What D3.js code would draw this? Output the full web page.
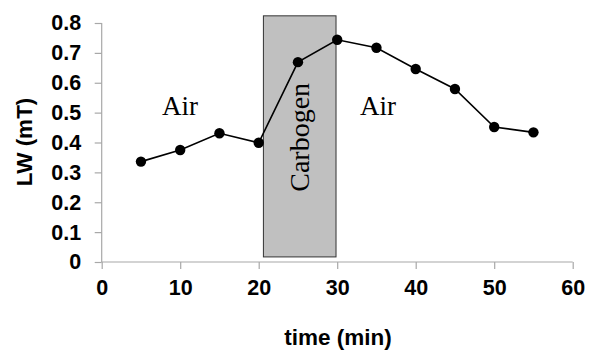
<!DOCTYPE html>
<html>
<head>
<meta charset="utf-8">
<script src="https://cdn.jsdelivr.net/npm/d3@7"></script>
<style>
  body { margin: 0; background: #fff; }
  svg { display: block; }
</style>
</head>
<body>
<div id="chart"></div>
<script>
// LW versus time, air / carbogen / air
const times = [5, 10, 15, 20, 25, 30, 35, 40, 45, 50, 55];
const lw = [0.336, 0.375, 0.431, 0.399, 0.669, 0.744, 0.717, 0.646, 0.579, 0.452, 0.434];
const xTicks = [0, 10, 20, 30, 40, 50, 60];
const yTicks = [0, 0.1, 0.2, 0.3, 0.4, 0.5, 0.6, 0.7, 0.8];
const carbogen = [20.6, 29.85]; // start, end (min)
const carbogenLW = [0.017, 0.824];

let width = 589, height = 351;

let x = d3.scaleLinear().domain([0, 60]).range([101.7, 572.7]);
let y = d3.scaleLinear().domain([0, 0.8]).range([262, 23]);

let svg = d3.select("#chart").append("svg")
  .attr("width", width)
  .attr("height", height);

// gray carbogen box
svg.append("rect")
  .attr("x", x(carbogen[0]))
  .attr("y", y(carbogenLW[1]))
  .attr("width", x(carbogen[1]) - x(carbogen[0]))
  .attr("height", y(carbogenLW[0]) - y(carbogenLW[1]))
  .attr("fill", "#c0c0c0")
  .attr("stroke", "#333")
  .attr("stroke-width", 1);

svg.append("text")
  .attr("transform", `translate(309,${(y(carbogenLW[0]) + y(carbogenLW[1])) / 2 + 1}) rotate(-90)`)
  .attr("text-anchor", "middle")
  .style("font-family", "'Liberation Serif', 'Times New Roman', serif")
  .style("font-size", "28px")
  .text("Carbogen");

// axes
let axeX = d3.axisBottom(x).tickValues(xTicks).tickSize(7).tickFormat(d3.format("d"));
let axeY = d3.axisLeft(y).tickValues(yTicks).tickSize(7).tickFormat(d => d === 0 ? "0" : d3.format(".1f")(d));

let gx = svg.append("g").attr("transform", `translate(0,${y(0)})`).call(axeX);
let gy = svg.append("g").attr("transform", `translate(${x(0)},0)`).call(axeY);

[gx, gy].forEach(g => {
  g.select(".domain").attr("stroke", "#a8a8a8").attr("stroke-width", 1.2);
  g.selectAll(".tick line").attr("stroke", "#a8a8a8").attr("stroke-width", 1.2);
  g.selectAll(".tick text")
    .attr("fill", "#000")
    .style("font-family", "'Liberation Sans', Arial, sans-serif")
    .style("font-weight", "bold")
    .style("font-size", "21.5px");
});
gx.select(".domain").attr("d", `M${x(0)},0H${x(60)}`);
gy.select(".domain").attr("d", `M0,${y(0)}V${y(0.8)}`);
gx.selectAll(".tick text").attr("y", 18).attr("dy", "0.71em");
gy.selectAll(".tick text").attr("x", -20.5);

// line + markers
let line = d3.line().x((d, i) => x(times[i])).y(d => y(d));

svg.append("path")
  .datum(lw)
  .attr("fill", "none")
  .attr("stroke", "#000")
  .attr("stroke-width", 1.6)
  .attr("d", line);

svg.selectAll("circle")
  .data(lw)
  .enter()
  .append("circle")
    .attr("cx", (d, i) => x(times[i]))
    .attr("cy", d => y(d))
    .attr("r", 5.2)
    .attr("fill", "#000");

// Air labels
svg.selectAll(".air")
  .data([[162, 115], [360, 115]])
  .enter()
  .append("text")
    .attr("class", "air")
    .attr("x", d => d[0])
    .attr("y", d => d[1])
    .style("font-family", "'Liberation Serif', 'Times New Roman', serif")
    .style("font-size", "27px")
    .text("Air");

// axis titles
svg.append("text")
  .attr("x", 338)
  .attr("y", 345)
  .attr("text-anchor", "middle")
  .style("font-family", "'Liberation Sans', Arial, sans-serif")
  .style("font-weight", "bold")
  .style("font-size", "22.5px")
  .text("time (min)");

svg.append("text")
  .attr("transform", "translate(32,142) rotate(-90)")
  .attr("text-anchor", "middle")
  .style("font-family", "'Liberation Sans', Arial, sans-serif")
  .style("font-weight", "bold")
  .style("font-size", "22.5px")
  .text("LW (mT)");
</script>
</body>
</html>
